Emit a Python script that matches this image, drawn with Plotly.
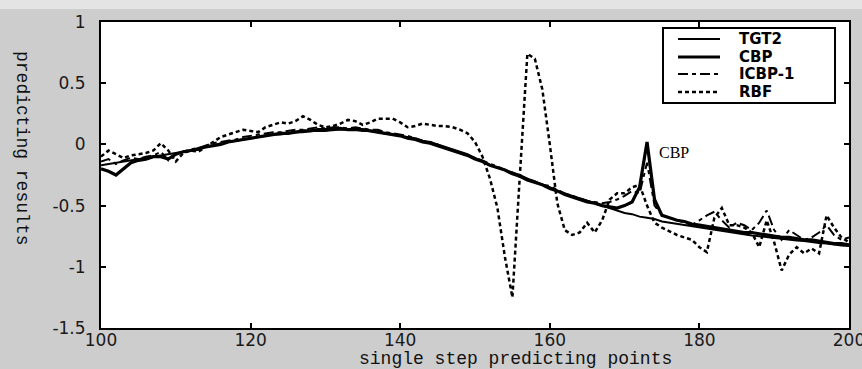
import plotly.graph_objects as go

x_points = list(range(100, 201))

tgt2 = [-0.17, -0.16, -0.15, -0.14, -0.13, -0.12, -0.11, -0.10, -0.09, -0.08,
        -0.07, -0.06, -0.05, -0.03, -0.02, -0.01, 0.01, 0.02, 0.03, 0.04,
        0.05, 0.06, 0.07, 0.08, 0.08, 0.09, 0.10, 0.10, 0.11, 0.11,
        0.11, 0.12, 0.12, 0.12, 0.12, 0.11, 0.11, 0.10, 0.09, 0.08,
        0.07, 0.06, 0.05, 0.03, 0.02, 0.00, -0.02, -0.04, -0.06, -0.08,
        -0.11, -0.14, -0.17, -0.19, -0.21, -0.23, -0.25, -0.28, -0.30, -0.33,
        -0.35, -0.38, -0.40, -0.42, -0.44, -0.46, -0.48, -0.50, -0.52, -0.54,
        -0.56, -0.57, -0.59, -0.60, -0.61, -0.63, -0.64, -0.65, -0.66, -0.67,
        -0.68, -0.69, -0.70, -0.71, -0.72, -0.73, -0.74, -0.745, -0.75, -0.76,
        -0.765, -0.77, -0.78, -0.785, -0.79, -0.80, -0.805, -0.81, -0.82, -0.825,
        -0.83]

cbp = [-0.20, -0.22, -0.25, -0.20, -0.15, -0.13, -0.12, -0.10, -0.10, -0.12,
       -0.08, -0.06, -0.05, -0.04, -0.02, -0.01, 0.00, 0.02, 0.03, 0.04,
       0.05, 0.06, 0.07, 0.08, 0.09, 0.09, 0.10, 0.11, 0.11, 0.12,
       0.12, 0.12, 0.13, 0.12, 0.12, 0.12, 0.11, 0.10, 0.09, 0.08,
       0.07, 0.05, 0.04, 0.02, 0.01, -0.01, -0.03, -0.05, -0.07, -0.09,
       -0.12, -0.14, -0.17, -0.19, -0.21, -0.24, -0.26, -0.29, -0.31, -0.33,
       -0.36, -0.38, -0.41, -0.43, -0.45, -0.47, -0.48, -0.50, -0.51, -0.52,
       -0.50, -0.47, -0.35, 0.02, -0.45, -0.58, -0.60, -0.62, -0.63, -0.65,
       -0.66, -0.67, -0.68, -0.69, -0.70, -0.71, -0.72, -0.72, -0.73, -0.74,
       -0.75, -0.76, -0.76, -0.77, -0.78, -0.78, -0.79, -0.80, -0.81, -0.81,
       -0.82]

icbp1 = [-0.14, -0.12, -0.16, -0.13, -0.11, -0.12, -0.10, -0.09, -0.06, -0.13,
         -0.08, -0.06, -0.04, -0.03, -0.01, 0.01, 0.02, 0.03, 0.04, 0.06,
         0.07, 0.08, 0.09, 0.10, 0.10, 0.11, 0.12, 0.12, 0.13, 0.14,
         0.13, 0.14, 0.14, 0.13, 0.14, 0.13, 0.12, 0.12, 0.10, 0.09,
         0.08, 0.07, 0.05, 0.03, 0.02, 0.00, -0.03, -0.05, -0.07, -0.09,
         -0.11, -0.13, -0.16, -0.18, -0.21, -0.23, -0.26, -0.28, -0.31, -0.33,
         -0.34, -0.37, -0.40, -0.42, -0.44, -0.46, -0.47, -0.48, -0.47, -0.45,
         -0.42, -0.38, -0.40, -0.15, -0.50, -0.58, -0.60, -0.62, -0.64, -0.66,
         -0.62, -0.58, -0.55, -0.62, -0.68, -0.64, -0.66, -0.70, -0.64, -0.54,
         -0.70, -0.78, -0.70, -0.74, -0.78, -0.76, -0.72, -0.66, -0.74, -0.78,
         -0.76]

rbf = [-0.10, -0.05, -0.08, -0.11, -0.09, -0.08, -0.07, -0.05, 0.01, -0.05,
       -0.14, -0.07, -0.05, -0.06, -0.02, 0.02, 0.06, 0.08, 0.10, 0.12,
       0.11, 0.10, 0.14, 0.16, 0.18, 0.17, 0.19, 0.23, 0.20, 0.16,
       0.14, 0.15, 0.17, 0.20, 0.19, 0.16, 0.18, 0.21, 0.21, 0.21,
       0.18, 0.14, 0.15, 0.17, 0.16, 0.15, 0.15, 0.14, 0.12, 0.09,
       0.02, -0.10, -0.28, -0.52, -0.92, -1.25, -0.25, 0.74, 0.70, 0.45,
       0.00, -0.48, -0.70, -0.74, -0.72, -0.64, -0.72, -0.62, -0.45, -0.40,
       -0.40, -0.35, -0.33, -0.50, -0.64, -0.68, -0.71, -0.74, -0.76, -0.78,
       -0.84, -0.88, -0.60, -0.52, -0.66, -0.66, -0.68, -0.72, -0.84, -0.62,
       -0.80, -1.03, -0.90, -0.84, -0.89, -0.85, -0.89, -0.58, -0.68, -0.76,
       -0.80]

x_ticks = [100, 120, 140, 160, 180, 200]
x_tick_text = ["100", "120", "140", "160", "180", "200"]
y_ticks = [-1.5, -1, -0.5, 0, 0.5, 1]
y_tick_text = ["-1.5", "-1", "-0.5", "0", "0.5", "1"]

series_names = ["TGT2", "CBP", "ICBP-1", "RBF"]
series_widths = [2, 3.2, 2, 2.5]
series_dashes = ["solid", "solid", "10px,4px,4px,4px", "4px,3px"]
series_values = [tgt2, cbp, icbp1, rbf]

fig = go.Figure()
for name, vals, w, d in zip(series_names, series_values, series_widths, series_dashes):
    fig.add_trace(go.Scatter(x=x_points, y=vals, mode="lines", name=name,
                             showlegend=False, hoverinfo="skip",
                             line=dict(color="black", width=w, dash=d)))

axis_common = dict(showline=True, linecolor="black", linewidth=2, mirror="ticks",
                   ticks="inside", ticklen=5, tickwidth=2, tickcolor="black",
                   showgrid=False, zeroline=False, ticklabeloverflow="allow",
                   automargin=False,
                   tickfont=dict(family="DejaVu Sans", size=17, color="#1a1a1a"))

fig.update_xaxes(range=[100, 200], tickvals=x_ticks, ticktext=x_tick_text,
                 ticklabelstandoff=-4, **axis_common)
fig.update_yaxes(range=[-1.5, 1], tickvals=y_ticks, ticktext=y_tick_text,
                 ticklabelstandoff=10, **axis_common)

fig.add_annotation(x=174.3, y=-0.07, text="CBP", showarrow=False, xanchor="left",
                   yanchor="middle", font=dict(family="Liberation Serif", size=16, color="black"))
fig.add_annotation(xref="paper", yref="paper", x=(515 - 101) / 748, y=(328 - 359) / 306,
                   text="single step predicting points", showarrow=False,
                   xanchor="center", yanchor="middle",
                   font=dict(family="Liberation Mono", size=18, color="#111"))
fig.add_annotation(xref="paper", yref="paper", x=(22 - 101) / 748, y=(328 - 148) / 306,
                   text="predicting results", showarrow=False, textangle=90,
                   xanchor="center", yanchor="middle",
                   font=dict(family="Liberation Mono", size=18, color="#111"))

# light strip at the very top of the figure
fig.add_shape(type="rect", xref="paper", yref="paper", layer="below",
              x0=-1, x1=2, y0=(328 - 9) / 306, y1=(328 + 5) / 306,
              fillcolor="#e4e4e4", line=dict(width=0))


def px_x(px):
    return (px - 101) / 748


def px_y(py):
    return (328 - py) / 306


# legend box
fig.add_shape(type="rect", xref="paper", yref="paper",
              x0=px_x(663), x1=px_x(835), y0=px_y(103), y1=px_y(28),
              fillcolor="white", line=dict(color="black", width=2))
legend_rows = [39, 57, 74, 92]
for name, w, d, row in zip(series_names, series_widths, series_dashes, legend_rows):
    fig.add_shape(type="line", xref="paper", yref="paper",
                  x0=px_x(678), x1=px_x(720), y0=px_y(row), y1=px_y(row),
                  line=dict(color="black", width=w, dash=d))
    fig.add_annotation(xref="paper", yref="paper", x=px_x(737), y=px_y(row),
                       text=name, showarrow=False, xanchor="left", yanchor="middle",
                       font=dict(family="DejaVu Sans", size=15, color="black", weight="bold"))

fig.update_layout(
    width=862, height=369, autosize=False,
    margin=dict(l=101, r=13, t=22, b=41),
    paper_bgcolor="#cdcdcd", plot_bgcolor="white",
    showlegend=False,
)

fig.write_html("out.html", config={"displayModeBar": False, "responsive": False},
               post_script="document.body.style.margin='0px';document.body.style.overflow='hidden';")
